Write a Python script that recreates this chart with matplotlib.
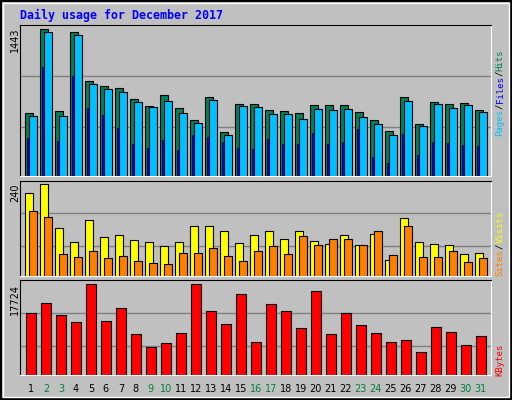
import numpy as np
import matplotlib.pyplot as plt

days = list(range(1, 32))
weekends = [2, 3, 9, 10, 16, 17, 23, 24, 30, 31]
hits = [620, 1443, 640, 1414, 934, 885, 865, 757, 689, 797, 669, 552, 777, 434, 708, 708,
        650, 640, 620, 699, 699, 699, 630, 552, 444, 777, 513, 728, 708, 718, 650]
files = [591, 1414, 591, 1384, 904, 855, 826, 728, 679, 738, 620, 522, 748, 405, 689, 679,
         611, 611, 562, 660, 650, 660, 581, 513, 405, 738, 493, 708, 669, 699, 630]
pages = [375, 1071, 346, 983, 669, 601, 473, 317, 278, 356, 258, 405, 385, 336, 278, 268,
         366, 317, 317, 424, 317, 336, 464, 189, 131, 415, 209, 336, 327, 307, 297]
visits = [217, 240, 125, 89, 146, 102, 107, 94, 89, 78, 89, 130, 130, 117, 86, 107,
          117, 97, 117, 91, 83, 107, 81, 110, 42, 151, 89, 83, 81, 57, 60]
sites = [170, 154, 57, 50, 65, 47, 52, 39, 34, 31, 60, 60, 73, 52, 39, 65,
         78, 57, 104, 81, 97, 97, 81, 117, 55, 130, 50, 50, 65, 37, 47]
kbytes = [12075, 14023, 11686, 10322, 17724, 10517, 13049, 7985, 5453, 6232, 8180, 17724,
          12465, 9933, 15776, 6427, 13828, 12465, 9154, 16360, 7985, 12075, 9738, 8180,
          6427, 6817, 4479, 9349, 8375, 5843, 7596]

W, H = 512, 400
BG = "#c0c0c0"
fig = plt.figure(figsize=(W / 100, H / 100), dpi=100, facecolor=BG)
x = np.array(days)


def panel(top, bottom, ymax, grid):
    ax = fig.add_axes([20 / W, 1 - bottom / H, 471 / W, (bottom - top) / H])
    ax.set_facecolor(BG)
    ax.set_xlim(0.273, 31.67)
    ax.set_ylim(0, ymax)
    for g in grid:
        ax.axhline(g, color="#808080", lw=1, zorder=0)
    ax.set_xticks([])
    ax.set_yticks([])
    for s in ax.spines.values():
        s.set_color("black")
    ax.spines["bottom"].set_color("white")
    ax.spines["right"].set_color("white")
    return ax


kw = dict(align="edge", edgecolor="black", linewidth=0.8)

ax1 = panel(25, 176.5, 1484, [483, 983])
ax1.bar(x - 0.373, hits, width=0.49, color="#00805c", **kw)
ax1.bar(x - 0.10, files, width=0.49, color="#00c0ff", **kw)
ax1.bar(x - 0.26, pages, width=0.13, color="#0000ff", align="edge",
        edgecolor="black", linewidth=0.5)

ax2 = panel(180.7, 276.3, 249, [78, 164])
ax2.bar(x - 0.373, visits, width=0.53, color="#ffff00", **kw)
ax2.bar(x - 0.107, sites, width=0.53, color="#ff8000", **kw)

ax3 = panel(280.3, 375.3, 18502, [5648, 12075])
ax3.bar(x - 0.307, kbytes, width=0.67, color="#ff0000", **kw)

for d in days:
    fig.text((30.9 + (d - 1) * 15) / W, 1 - 389 / H, str(d), ha="center", va="center",
             fontsize=7, color="#008040" if d in weekends else "black")

fig.text(20 / W, 1 - 15 / H, "Daily usage for December 2017", ha="left", va="center",
         fontsize=8.4, fontweight="bold", family="DejaVu Sans Mono", color="#0000ff")

for y0, label in [(28, "1443"), (184, "240"), (284, "17724")]:
    fig.text(15 / W, 1 - y0 / H, label, rotation=90, ha="center", va="top", fontsize=7)

FS = 6.5
STEP = FS / 72 * 100 * 0.602


def right_label(y0, parts):
    # stack coloured pieces upward from y0 (pixels)
    y = y0
    for text, color in parts:
        fig.text(500 / W, 1 - y / H, text, rotation=90, ha="center", va="bottom",
                 fontsize=FS, family="DejaVu Sans Mono", color=color)
        y -= len(text) * STEP


right_label(136, [("Pages", "#00c0ff"), ("/", "#000000"), ("Files", "#0000ff"),
                  ("/", "#000000"), ("Hits", "#00805c")])
right_label(276, [("Sites", "#ff8000"), ("/", "#000000"), ("Visits", "#ffff00")])
right_label(376, [("KBytes", "#ff0000")])

# outer border
fig.patches.append(plt.Rectangle((0.002, 0.002), 0.996, 0.996, transform=fig.transFigure,
                                 fill=False, edgecolor="black", lw=1.5))
fig.patches.append(plt.Rectangle((0.006, 0.008), 0.988, 0.985, transform=fig.transFigure,
                                 fill=False, edgecolor="white", lw=1))

fig.savefig("out.png", dpi=100, facecolor=BG)
